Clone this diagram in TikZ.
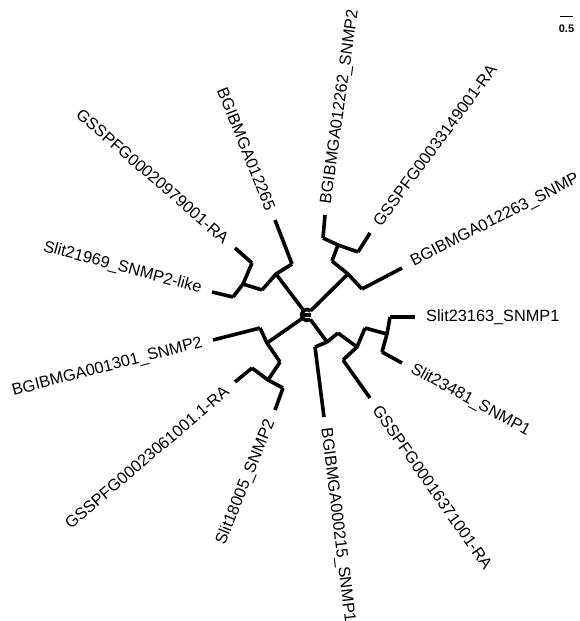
\documentclass[tikz,border=0pt]{standalone}
\usepackage{fontspec}
\setmainfont{Liberation Sans}
\usetikzlibrary{calc}

\begin{document}
\begin{tikzpicture}[x=1pt, y=-1pt,
  branch/.style={line width=3.6pt, line join=miter},
  taxon/.style={font=\fontsize{16.3}{18}\selectfont, inner ysep=0pt, inner xsep=11pt},
  outer/.style={taxon, anchor=west},
  inner/.style={taxon, anchor=east}]
  \useasboundingbox (0,0) rectangle (579,621);
  % Racine
  \coordinate (rt) at (307,315);
  \draw[branch] ($(rt)+(53:5.5)$) arc[start angle=53, end angle=311, radius=5.5];
  \draw[branch] (302,315) -- (311,315);
  \coordinate (rUL) at (303.7,310.6);
  \coordinate (rUR) at (310.6,310.8);
  \coordinate (rLL) at (302.5,318.2);
  \coordinate (rLR) at (310.3,319.4);
  % Clade haut gauche
  \coordinate (nUL) at (276,274);
  \coordinate (cUL1) at (292,264);
  \coordinate (cUL2) at (262,290);
  \coordinate (nUL2) at (243,284);
  \coordinate (cUL3) at (252,263);
  \coordinate (cUL4) at (233,297);
  \coordinate (lBG65) at (275,220);
  \coordinate (lGS79) at (235,248);
  \coordinate (lSl69) at (212,292);
  \draw[branch] (rUL) -- (nUL);
  \draw[branch] (cUL1) -- (nUL) -- (cUL2);
  \draw[branch] (cUL1) -- (lBG65);
  \draw[branch] (cUL2) -- (nUL2);
  \draw[branch] (cUL3) -- (nUL2) -- (cUL4);
  \draw[branch] (cUL3) -- (lGS79);
  \draw[branch] (cUL4) -- (lSl69);
  % Clade haut droit
  \coordinate (nUR) at (348,274);
  \coordinate (cUR1) at (332,261);
  \coordinate (cUR2) at (362,289);
  \coordinate (nUR2) at (338,245);
  \coordinate (cUR3) at (323,238);
  \coordinate (cUR4) at (358,252);
  \coordinate (lBG62) at (325,215);
  \coordinate (lGS49) at (370,233);
  \coordinate (lBG63) at (402,268);
  \draw[branch] (rUR) -- (nUR);
  \draw[branch] (cUR1) -- (nUR) -- (cUR2);
  \draw[branch] (cUR2) -- (lBG63);
  \draw[branch] (cUR1) -- (nUR2);
  \draw[branch] (cUR3) -- (nUR2) -- (cUR4);
  \draw[branch] (cUR3) -- (lBG62);
  \draw[branch] (cUR4) -- (lGS49);
  % Clade bas gauche
  \coordinate (nLL) at (267,343);
  \coordinate (cLL1) at (260,328);
  \coordinate (cLL2) at (280,362);
  \coordinate (nLL2) at (268,380);
  \coordinate (cLL3) at (252,368);
  \coordinate (cLL4) at (283,388);
  \coordinate (lBG01) at (213,340);
  \coordinate (lGS61) at (235,382);
  \coordinate (lSl05) at (275,410);
  \draw[branch] (rLL) -- (nLL);
  \draw[branch] (cLL1) -- (nLL) -- (cLL2);
  \draw[branch] (cLL1) -- (lBG01);
  \draw[branch] (cLL2) -- (nLL2);
  \draw[branch] (cLL3) -- (nLL2) -- (cLL4);
  \draw[branch] (cLL3) -- (lGS61);
  \draw[branch] (cLL4) -- (lSl05);
  % Clade bas droit
  \coordinate (nLR) at (327,342);
  \coordinate (cLR1) at (315,347);
  \coordinate (cLR2) at (338,333);
  \coordinate (nLR2) at (357,347);
  \coordinate (cLR3) at (343,360);
  \coordinate (cLR4) at (365,328);
  \coordinate (nLR3) at (387,334);
  \coordinate (cLR5) at (390,317);
  \coordinate (cLR6) at (382,352);
  \coordinate (lBG15) at (324,417);
  \coordinate (lGS71) at (370,398);
  \coordinate (lSl63) at (415,317);
  \coordinate (lSl81) at (402,363);
  \draw[branch] (rLR) -- (nLR);
  \draw[branch] (cLR1) -- (nLR) -- (cLR2);
  \draw[branch] (cLR1) -- (lBG15);
  \draw[branch] (cLR2) -- (nLR2);
  \draw[branch] (cLR3) -- (nLR2) -- (cLR4);
  \draw[branch] (cLR3) -- (lGS71);
  \draw[branch] (cLR4) -- (nLR3);
  \draw[branch] (cLR5) -- (nLR3) -- (cLR6);
  \draw[branch] (cLR5) -- (lSl63);
  \draw[branch] (cLR6) -- (lSl81);
  % Noms des sequences
  \node[inner, rotate=-68] (tBG65) at (lBG65) {BGIBMGA012265};
  \node[inner, rotate=-41] (tGS79) at (lGS79) {GSSPFG00020979001-RA};
  \node[inner, rotate=-15] (tSl69) at (lSl69) {Slit21969\_SNMP2-like};
  \node[inner, rotate=14.5] (tBG01) at (lBG01) {BGIBMGA001301\_SNMP2};
  \node[inner, rotate=40.5] (tGS61) at (lGS61) {GSSPFG00023061001.1-RA};
  \node[inner, rotate=68] (tSl05) at (lSl05) {Slit18005\_SNMP2};
  \node[outer, rotate=82] (tBG62) at (lBG62) {BGIBMGA012262\_SNMP2};
  \node[outer, rotate=53.5] (tGS49) at (lGS49) {GSSPFG00033149001-RA};
  \node[outer, rotate=27] (tBG63) at (lBG63) {BGIBMGA012263\_SNMP};
  \node[outer, rotate=0] (tSl63) at (lSl63) {Slit23163\_SNMP1};
  \node[outer, rotate=-28.5] (tSl81) at (lSl81) {Slit23481\_SNMP1};
  \node[outer, rotate=-55] (tGS71) at (lGS71) {GSSPFG00016371001-RA};
  \node[outer, rotate=-83] (tBG15) at (lBG15) {BGIBMGA000215\_SNMP1};
  % Echelle
  \coordinate (sb1) at (560,16);
  \coordinate (sb2) at (573,16);
  \draw[line width=1pt] (sb1) -- (sb2);
  \node[font=\bfseries\fontsize{11}{12}\selectfont] (sbl) at (566.5,29) {0.5};
\end{tikzpicture}
\end{document}
